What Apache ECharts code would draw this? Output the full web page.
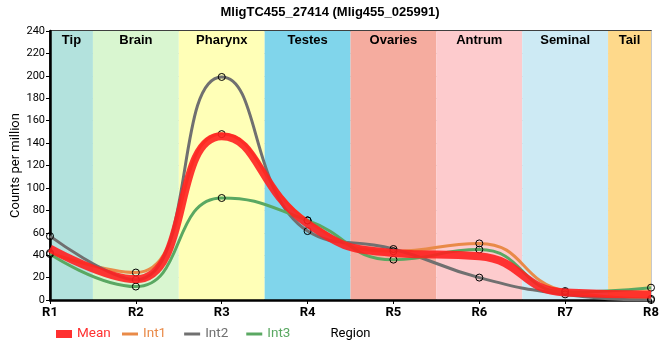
<!DOCTYPE html>
<html><head><meta charset="utf-8">
<script src="https://cdn.jsdelivr.net/npm/echarts@6/dist/echarts.min.js"></script>
<style>html,body{margin:0;padding:0;background:#fff}#c{width:660px;height:360px}</style>
</head><body><div id="c"></div>
<script>
const categories = ['R1','R2','R3','R4','R5','R6','R7','R8'];
const meanVals = [46, 18.5, 146, 68, 42, 39, 6.7, 5];
const int1Vals = [42, 24.5, 148, 71, 43.5, 50.5, 8, 1];
const int2Vals = [57, 18, 199, 61.5, 45.5, 20, 5, 0];
const int3Vals = [41, 12, 91, 71, 36, 45, 7, 11];
const yTicks = [0, 240, 20];
const bandNames = ['Tip','Brain','Pharynx','Testes','Ovaries','Antrum','Seminal','Tail'];
const bandStart = [1, 1.5, 2.5, 3.5, 4.5, 5.5, 6.5, 7.5];
const bandEnd = [1.5, 2.5, 3.5, 4.5, 5.5, 6.5, 7.5, 8];
const bandColors = ['#b3e2dd','#d9f6d0','#ffffb7','#80d5eb','#f5ac9f','#fdcbcd','#cdeaf4','#fed98b'];

const toXY = arr => arr.map((v, i) => [i + 1, v]);
const sym = {symbol:'circle', symbolSize:7, itemStyle:{color:'rgba(255,255,255,0)', borderColor:'#000', borderWidth:1}};
const chart = echarts.init(document.getElementById('c'));
chart.setOption({
  animation:false,
  title:{text:'MligTC455_27414 (Mlig455_025991)', left:'center', top:1,
    textStyle:{fontFamily:'Liberation Sans', fontSize:13, fontWeight:'bold', color:'#000'}},
  grid:{left:50, right:9, top:31, bottom:60, show:true, borderColor:'#000', borderWidth:1.5, z:1,
    containLabel:false, outerBoundsMode:'none'},
  legend:[
    {left:51, top:322, itemWidth:16, itemHeight:8, itemGap:10,
      data:[{name:'Mean', icon:'rect', itemStyle:{color:'#ff3030', borderWidth:0}, textStyle:{color:'#ff3030'}}],
      textStyle:{fontFamily:'Roboto', fontSize:13.5}},
    {left:117, top:322, itemWidth:16, itemHeight:3, itemGap:18,
      data:[{name:'Int1', icon:'rect', itemStyle:{color:'#e98a48', borderWidth:0}, textStyle:{color:'#e98a48'}},
            {name:'Int2', icon:'rect', itemStyle:{color:'#707070', borderWidth:0}, textStyle:{color:'#707070'}},
            {name:'Int3', icon:'rect', itemStyle:{color:'#5aa862', borderWidth:0}, textStyle:{color:'#5aa862'}}],
      textStyle:{fontFamily:'Roboto', fontSize:13.5}}
  ],
  xAxis:{type:'value', min:1, max:8, interval:1, z:1,
    name:'Region', nameLocation:'middle', nameGap:27, nameMoveOverlap:false,
    nameTextStyle:{fontFamily:'Roboto', fontSize:13, color:'#000'},
    axisLine:{show:true, lineStyle:{color:'#000', width:2.5}},
    axisTick:{show:true, length:4, lineStyle:{color:'#000'}},
    axisLabel:{formatter:v => categories[v-1], fontFamily:'Roboto', fontWeight:'bold', fontSize:13, color:'#000', margin:6},
    splitLine:{show:true, lineStyle:{color:'#c8c8c8', width:1}}},
  yAxis:{type:'value', min:yTicks[0], max:yTicks[1], interval:yTicks[2], z:1,
    name:'Counts per million', nameLocation:'middle', nameGap:28, nameMoveOverlap:false,
    nameTextStyle:{fontFamily:'Roboto', fontSize:13, color:'#000'},
    axisLine:{show:true, lineStyle:{color:'#000', width:2.5}},
    axisTick:{show:true, length:4, lineStyle:{color:'#000'}},
    axisLabel:{fontFamily:'Roboto', fontSize:11, color:'#000', margin:5},
    splitLine:{show:true, lineStyle:{color:'#c8c8c8', width:1}}},
  series:[
    {type:'line', name:'bands', data:[], z:0, silent:true,
      markArea:{silent:true,
        label:{position:'insideTop', distance:3, fontFamily:'Liberation Sans', fontWeight:'bold', fontSize:13, color:'#000'},
        data: bandNames.map((n,i)=>[{xAxis:bandStart[i], yAxis:240, name:n, itemStyle:{color:bandColors[i], opacity:1}}, {xAxis:bandEnd[i], yAxis:0}])}},
    {type:'line', name:'Int1', data:toXY(int1Vals), smooth:0.5, z:3, color:'#e98a48',
      lineStyle:{color:'#e98a48', width:3}, ...sym},
    {type:'line', name:'Int2', data:toXY(int2Vals), smooth:0.5, z:3, color:'#707070',
      lineStyle:{color:'#707070', width:3}, ...sym},
    {type:'line', name:'Int3', data:toXY(int3Vals), smooth:0.5, z:3, color:'#5aa862',
      lineStyle:{color:'#5aa862', width:3}, ...sym},
    {type:'line', name:'Mean', data:toXY(meanVals), smooth:0.5, z:4, color:'#ff2020',
      lineStyle:{color:'#ff2020', width:8, opacity:0.9}, symbol:'none'}
  ]
});
</script></body></html>
